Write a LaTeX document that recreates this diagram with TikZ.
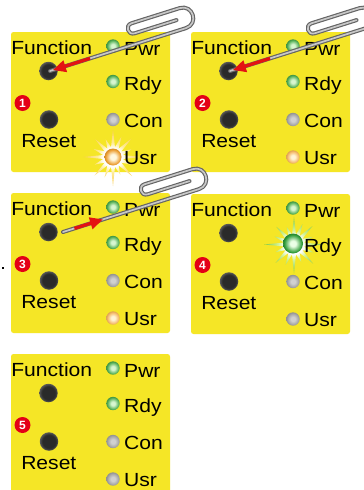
\documentclass[tikz,border=0pt]{standalone}
\usepackage{fontspec}
\usepackage{graphicx}
\setmainfont{Liberation Sans}
\usetikzlibrary{arrows.meta}

% colours
\definecolor{panelyellow}{RGB}{245,230,38}
\definecolor{badgered}{RGB}{228,0,22}
\definecolor{arrowred}{RGB}{228,18,18}
\definecolor{wiredark}{RGB}{100,100,100}
\definecolor{wirelight}{RGB}{200,200,200}
\definecolor{btnIn}{RGB}{42,42,42}
\definecolor{btnOut}{RGB}{88,88,88}
\definecolor{gIn}{RGB}{215,246,208}
\definecolor{gOut}{RGB}{78,172,80}
\definecolor{grIn}{RGB}{208,208,208}
\definecolor{grOut}{RGB}{160,160,160}
\definecolor{oIn}{RGB}{255,244,215}
\definecolor{oOut}{RGB}{244,180,96}
\definecolor{loIn}{RGB}{255,248,225}
\definecolor{loOut}{RGB}{236,156,46}
\definecolor{lgIn}{RGB}{235,255,230}
\definecolor{lgOut}{RGB}{45,155,55}
\definecolor{sunA}{RGB}{255,236,150}
\definecolor{sunB}{RGB}{250,204,88}
\definecolor{leafA}{RGB}{210,242,150}
\definecolor{leafB}{RGB}{125,200,62}

% radial shadings (the circle edge sits at 25bp)
\pgfdeclareradialshading{buttonshade}{\pgfpoint{0bp}{0bp}}{color(0bp)=(btnIn); color(18bp)=(btnIn); color(25bp)=(btnOut); color(50bp)=(btnOut)}
\pgfdeclareradialshading{greenled}{\pgfpoint{0bp}{0bp}}{color(0bp)=(gIn); color(7bp)=(gIn); color(22bp)=(gOut); color(25bp)=(gOut!85!black); color(50bp)=(gOut!85!black)}
\pgfdeclareradialshading{grayled}{\pgfpoint{0bp}{0bp}}{color(0bp)=(grIn); color(8bp)=(grIn); color(22bp)=(grOut); color(25bp)=(grOut!90!black); color(50bp)=(grOut!90!black)}
\pgfdeclareradialshading{paleled}{\pgfpoint{0bp}{0bp}}{color(0bp)=(oIn); color(7bp)=(oIn); color(22bp)=(oOut); color(25bp)=(oOut!90!black); color(50bp)=(oOut!90!black)}
\pgfdeclareradialshading{sunled}{\pgfpoint{0bp}{0bp}}{color(0bp)=(loIn); color(8bp)=(loIn); color(22bp)=(loOut); color(25bp)=(loOut!90!black); color(50bp)=(loOut!90!black)}
\pgfdeclareradialshading{litgreenled}{\pgfpoint{0bp}{0bp}}{color(0bp)=(lgIn); color(7bp)=(lgIn); color(22bp)=(lgOut); color(25bp)=(lgOut!85!black); color(50bp)=(lgOut!85!black)}
\pgfdeclareradialshading{sunglow}{\pgfpoint{0bp}{0bp}}{color(0bp)=(white); color(8bp)=(white); color(13bp)=(sunA); color(25bp)=(sunB); color(50bp)=(sunB)}
\pgfdeclareradialshading{leafglow}{\pgfpoint{0bp}{0bp}}{color(0bp)=(white); color(8bp)=(white); color(13bp)=(leafA); color(25bp)=(leafB); color(50bp)=(leafB)}

\newcommand\wide[1]{\scalebox{1.11}[1]{#1}}

\tikzset{
  lbl/.style={inner sep=0pt, font=\fontsize{19}{19}\selectfont},
  button/.style={circle, inner sep=0pt, minimum size=18.5pt, shade, shading=buttonshade},
  badge/.style={circle, inner sep=0pt, minimum size=16pt, fill=badgered, text=white,
    font=\fontsize{12}{12}\selectfont\bfseries},
  led/.style={circle, inner sep=0pt, minimum size=13.4pt, shade},
  ledgreen/.style={shading=greenled},
  ledgray/.style={shading=grayled},
  ledpale/.style={shading=paleled},
  ledsun/.style={shading=sunled, minimum size=17pt},
  ledlit/.style={shading=litgreenled, minimum size=20pt},
  wirepath/.style={line cap=round, line join=round},
  redarrow/.style={draw=arrowred, line width=3.2pt, -{Triangle[length=13pt,width=11.5pt]}},
}

% glow star: #1 centre, #2 shading
\newcommand\starburst[2]{%
  \begin{scope}[shift={#1}]
    \shade[shading=#2] (0:29)
      \foreach \i/\r in {1/10,2/21,3/10,4/27,5/10,6/19,7/10,8/29,9/10,10/22,11/10,12/26,
        13/10,14/20,15/10,16/30,17/10,18/21,19/10,20/25,21/10,22/19,23/10,24/28,
        25/10,26/22,27/10,28/26,29/10,30/20,31/10} { -- (\i*11.25:\r) } -- cycle;
  \end{scope}}

% one panel: #1,#2 offset, #3 step number, #4-#7 LED styles, #8 glow
\newcommand\ledpanel[8]{%
  \begin{scope}[shift={(#1,#2)}]
    \fill[panelyellow, rounded corners=2.5pt] (11,32) rectangle (170,172);
    #8
    \node[lbl, anchor=base] (fn#3) at (51.7,54) {\wide{Function}};
    \node[lbl, anchor=base] (rs#3) at (48.8,147.7) {\wide{Reset}};
    \node[lbl, anchor=base west] (pt#3) at (124,55) {\wide{Pwr}};
    \node[lbl, anchor=base west] (rt#3) at (124,90) {\wide{Rdy}};
    \node[lbl, anchor=base west] (ct#3) at (124,127.7) {\wide{Con}};
    \node[lbl, anchor=base west] (ut#3) at (124,164) {\wide{Usr}};
    \node[button] (fb#3) at (48.5,71) {};
    \node[button] (rb#3) at (49,119.5) {};
    \node[badge] (bd#3) at (22.5,103) {#3};
    \node[led,#4] (pl#3) at (113,46) {};
    \node[led,#5] (rl#3) at (113,81.5) {};
    \node[led,#6] (cl#3) at (113,119.5) {};
    \node[led,#7] (ul#3) at (113,157) {};
  \end{scope}}

% half-bent paper clip: #1 tip, #2 name, #3 arrow start (u), #4 arrow end (u)
\newcommand\paperclip[4]{%
  \begin{scope}[shift={#1}, rotate=17.5]
    \coordinate (tip#2) at (0,0);
    \coordinate (as#2) at (#3,0);
    \coordinate (ae#2) at (#4,0);
    \foreach \w/\c in {4/wiredark, 1.7/wirelight}
      \draw[wirepath, line width=\w pt, draw=\c] (tip#2) -- (142.5,0)
        .. controls (156.5,0) and (156.5,-21) .. (142.5,-21) -- (92,-21)
        .. controls (85,-21) and (85,-10.5) .. (92,-10.5) -- (136,-10.5);
    \draw[redarrow] (as#2) -- (ae#2);
  \end{scope}}

\begin{document}
\begin{tikzpicture}[x=1pt, y=-1pt]
  \useasboundingbox (0,0) rectangle (364,490);
  \clip (0,0) rectangle (364,490);
  \fill[white] (0,0) rectangle (364,490);

  \ledpanel{0}{0}{1}{ledgreen}{ledgreen}{ledgray}{ledsun}{\starburst{(113,157)}{sunglow}}
  \ledpanel{180}{0}{2}{ledgreen}{ledgreen}{ledgray}{ledpale}{}
  \ledpanel{0}{161}{3}{ledgreen}{ledgreen}{ledgray}{ledpale}{}
  \ledpanel{180}{162}{4}{ledgreen}{ledlit}{ledgray}{ledgray}{\starburst{(114,82.5)}{leafglow}}
  \ledpanel{0}{322}{5}{ledgreen}{ledgreen}{ledgray}{ledgray}{}

  % small mark left of panel 3
  \fill[black] (1.5,266.8) rectangle (3.8,269.2);

  % paper clips
  \paperclip{(50,71)}{a}{42}{3}
  \paperclip{(230,71)}{b}{42}{3}
  \paperclip{(63,232)}{c}{12}{42}
\end{tikzpicture}
\end{document}
